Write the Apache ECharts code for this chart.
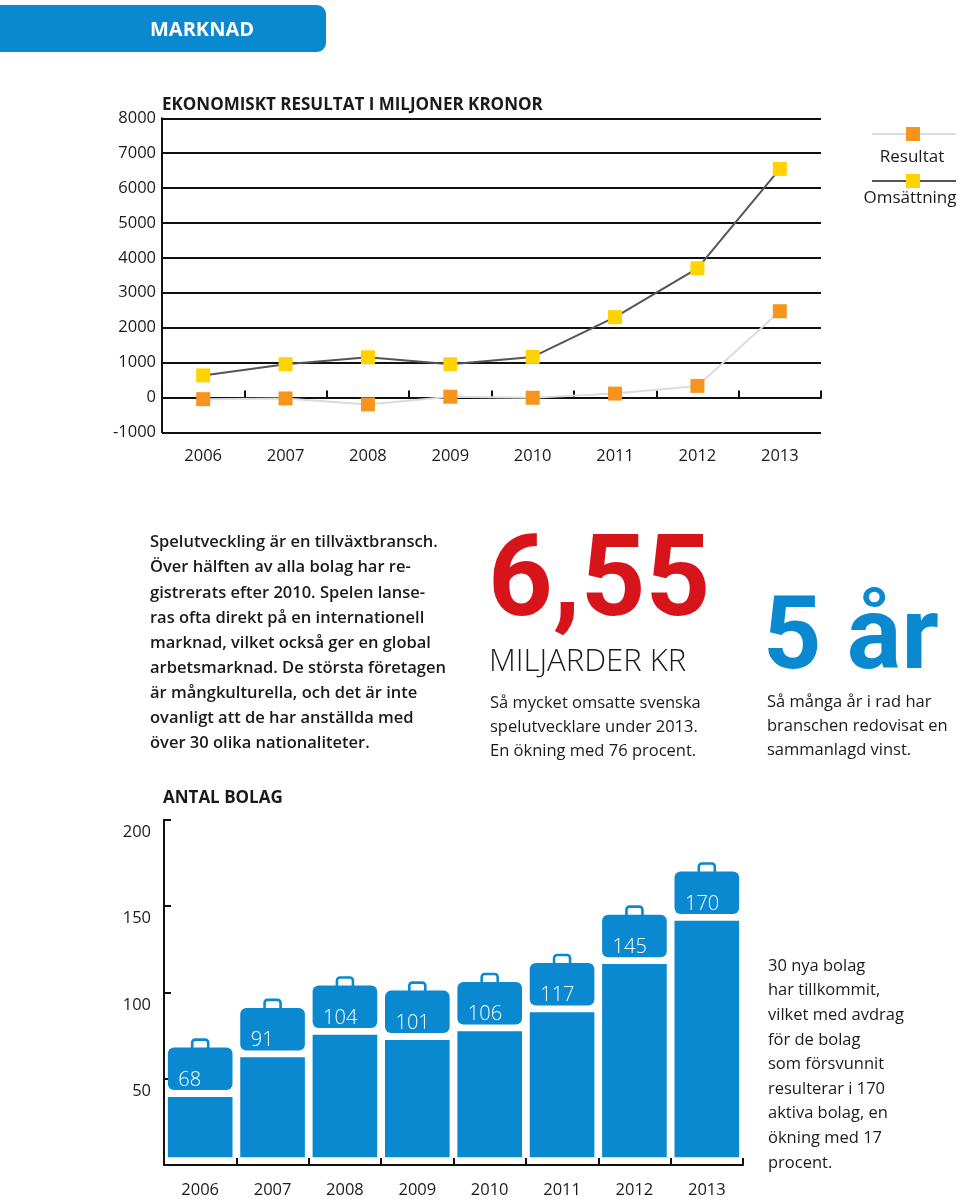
<!DOCTYPE html>
<html>
<head>
<meta charset="utf-8">
<script src="https://cdn.jsdelivr.net/npm/echarts@6/dist/echarts.min.js"></script>
<style>
html,body{margin:0;padding:0;background:#fff;}
#c{width:960px;height:1199px;}
</style>
</head>
<body>
<div id="c"></div>
<script>
// ---- Data ----
var years = ['2006','2007','2008','2009','2010','2011','2012','2013'];
var omsattning = [630, 950, 1150, 950, 1160, 2300, 3700, 6550];
var resultat = [-50, -30, -200, 20, -10, 110, 330, 2470];
var yTicksLine = [-1000, 8000, 1000]; // min, max, interval
var antalBolag = [68, 91, 104, 101, 106, 117, 145, 170];
var yTicksBar = [0, 200, 50];

var FONT = '"Open Sans", Roboto, sans-serif';
var FONT_BIG = 'Roboto, "Open Sans", sans-serif';
var BLUE = '#0a88d0';
var TXT = '#1a1a1a';

var paragraph = [
  'Spelutveckling är en tillväxtbransch.',
  'Över hälften av alla bolag har re-',
  'gistrerats efter 2010. Spelen lanse-',
  'ras ofta direkt på en internationell',
  'marknad, vilket också ger en global',
  'arbetsmarknad. De största företagen',
  'är mångkulturella, och det är inte',
  'ovanligt att de har anställda med',
  'över 30 olika nationaliteter.'
];
var stat1 = ['Så mycket omsatte svenska', 'spelutvecklare under 2013.', 'En ökning med 76 procent.'];
var stat2 = ['Så många år i rad har', 'branschen redovisat en', 'sammanlagd vinst.'];
var barNote = ['30 nya bolag', 'har tillkommit,', 'vilket med avdrag', 'för de bolag', 'som försvunnit', 'resulterar i 170', 'aktiva bolag, en', 'ökning med 17', 'procent.'];

var chart = echarts.init(document.getElementById('c'), null, {renderer: 'canvas'});

function textBlock(lines, x, y0, lh, size, weight, color) {
  return lines.map(function (t, i) {
    return {
      type: 'text', x: x, y: y0 + i * lh,
      style: {text: t, fill: color || TXT, fontSize: size, fontFamily: FONT, fontWeight: weight, verticalAlign: 'middle'}
    };
  });
}

var graphics = [
  {type: 'rect', shape: {x: -12, y: 5, width: 338, height: 47, r: 9}, style: {fill: BLUE}},
  {type: 'text', x: 202, y: 30.5, style: {text: 'MARKNAD', fill: '#fff', fontSize: 20, fontWeight: 'bold', fontFamily: FONT, align: 'center', verticalAlign: 'middle'}},
  {type: 'text', x: 162, y: 105, style: {text: 'EKONOMISKT RESULTAT I MILJONER KRONOR', fill: TXT, fontSize: 17, fontWeight: 'bold', fontFamily: FONT, verticalAlign: 'middle'}},
  {type: 'text', x: 163, y: 798, style: {text: 'ANTAL BOLAG', fill: TXT, fontSize: 17, fontWeight: 'bold', fontFamily: FONT, verticalAlign: 'middle'}},
  // legend
  {type: 'line', shape: {x1: 872, y1: 134, x2: 956, y2: 134}, style: {stroke: '#dcdcdc', lineWidth: 2}},
  {type: 'rect', shape: {x: 906, y: 127, width: 14, height: 14}, style: {fill: '#f7941d'}},
  {type: 'text', x: 912, y: 157.5, style: {text: 'Resultat', fill: TXT, fontSize: 17, fontFamily: FONT, align: 'center', verticalAlign: 'middle'}},
  {type: 'line', shape: {x1: 872, y1: 181, x2: 956, y2: 181}, style: {stroke: '#555', lineWidth: 2}},
  {type: 'rect', shape: {x: 906, y: 174, width: 14, height: 14}, style: {fill: '#ffd200'}},
  {type: 'text', x: 910, y: 198.5, style: {text: 'Omsättning', fill: TXT, fontSize: 17, fontFamily: FONT, align: 'center', verticalAlign: 'middle'}},
  // big numbers
  {type: 'text', x: 488, y: 587, style: {text: '6,55', fill: '#d7141a', fontSize: 113, fontWeight: 'bold', fontFamily: FONT_BIG, verticalAlign: 'middle'}},
  {type: 'text', x: 489, y: 662.5, style: {text: 'MILJARDER KR', fill: TXT, fontSize: 31, fontWeight: 300, fontFamily: FONT, verticalAlign: 'middle'}},
  {type: 'text', x: 763, y: 642, style: {text: '5 år', fill: BLUE, fontSize: 102, fontWeight: 'bold', fontFamily: FONT_BIG, verticalAlign: 'middle'}}
];
graphics = graphics
  .concat(textBlock(paragraph, 150, 542.5, 25.15, 16.5, 600))
  .concat(textBlock(stat1, 490, 703.5, 24, 16.5, 400))
  .concat(textBlock(stat2, 767, 702, 23.9, 16.5, 400))
  .concat(textBlock(barNote, 768, 966, 24.6, 16.5, 400));

var option = {
  animation: false,
  backgroundColor: '#fff',
  textStyle: {fontFamily: FONT},
  grid: [
    {left: 162, top: 118.3, width: 659, height: 314, containLabel: false},
    {left: 164, top: 819.7, width: 579, height: 352, containLabel: false}
  ],
  xAxis: [
    {
      type: 'category', gridIndex: 0, data: years, boundaryGap: true,
      axisLine: {show: true, onZero: true, lineStyle: {color: '#111', width: 2}},
      axisTick: {show: true, inside: true, length: 7, lineStyle: {color: '#111', width: 2}},
      axisLabel: {margin: 15, fontSize: 16.5, color: TXT, fontFamily: FONT},
      splitLine: {show: false}
    },
    {
      type: 'category', gridIndex: 1, data: years, boundaryGap: true,
      axisLine: {show: true, lineStyle: {color: '#111', width: 2}},
      axisTick: {show: true, inside: true, length: 7, lineStyle: {color: '#111', width: 2}},
      axisLabel: {margin: 17, fontSize: 16.5, color: TXT, fontFamily: FONT},
      splitLine: {show: false}
    }
  ],
  yAxis: [
    {
      type: 'value', gridIndex: 0, min: yTicksLine[0], max: yTicksLine[1], interval: yTicksLine[2],
      axisLine: {show: true, lineStyle: {color: '#111', width: 2}},
      axisTick: {show: false},
      axisLabel: {margin: 6, fontSize: 16.5, color: TXT, fontFamily: FONT,
        formatter: function (v) { return String(v); }},
      splitLine: {show: true, lineStyle: {color: '#111', width: 2}}
    },
    {
      type: 'value', gridIndex: 1, min: yTicksBar[0], max: yTicksBar[1], interval: yTicksBar[2],
      axisLine: {show: true, lineStyle: {color: '#111', width: 2}},
      axisTick: {show: true, inside: true, length: 7, lineStyle: {color: '#111', width: 2}},
      axisLabel: {margin: 13, fontSize: 16.5, color: TXT, fontFamily: FONT, verticalAlign: 'top', padding: [4, 0, 0, 0],
        formatter: function (v) { return v === 0 ? '' : String(v); }},
      splitLine: {show: false}
    }
  ],
  series: [
    {
      name: 'Resultat', type: 'line', xAxisIndex: 0, yAxisIndex: 0, data: resultat,
      symbol: 'rect', symbolSize: 14, lineStyle: {color: '#dcdcdc', width: 2},
      itemStyle: {color: '#f7941d'}, z: 3
    },
    {
      name: 'Omsättning', type: 'line', xAxisIndex: 0, yAxisIndex: 0, data: omsattning,
      symbol: 'rect', symbolSize: 14, lineStyle: {color: '#555', width: 2},
      itemStyle: {color: '#ffd200'}, z: 4
    },
    {
      name: 'Antal bolag', type: 'custom', xAxisIndex: 1, yAxisIndex: 1,
      data: antalBolag.map(function (v, i) { return [i, v]; }),
      encode: {x: 0, y: 1},
      clip: false,
      renderItem: function (params, api) {
        var idx = api.value(0), v = api.value(1);
        var top = api.coord([idx, v]);
        var base = api.coord([idx, 0]);
        var cw = api.size([1, 0])[0];
        var w = cw * 0.893;
        var cx = top[0], ty = top[1];
        var lx = cx - w / 2;
        var lidH = 42.5;
        return {
          type: 'group',
          children: [
            {type: 'rect', shape: {x: cx - 8, y: ty - 8, width: 16, height: 12, r: [3, 3, 0, 0]},
              style: {fill: '#fff', stroke: BLUE, lineWidth: 2.6}},
            {type: 'rect', shape: {x: lx, y: ty, width: w, height: lidH, r: 6}, style: {fill: BLUE}},
            {type: 'rect', shape: {x: lx, y: ty + lidH + 6.8, width: w, height: (base[1] - 7.7) - (ty + lidH + 6.8)}, style: {fill: BLUE}},
            {type: 'text', x: lx + 10.5, y: ty + 32.5,
              style: {text: String(v), fill: '#fff', fontSize: 20, fontWeight: 300, fontFamily: FONT, verticalAlign: 'middle'}}
          ]
        };
      }
    }
  ],
  graphic: graphics
};
chart.setOption(option);
</script>
</body>
</html>
